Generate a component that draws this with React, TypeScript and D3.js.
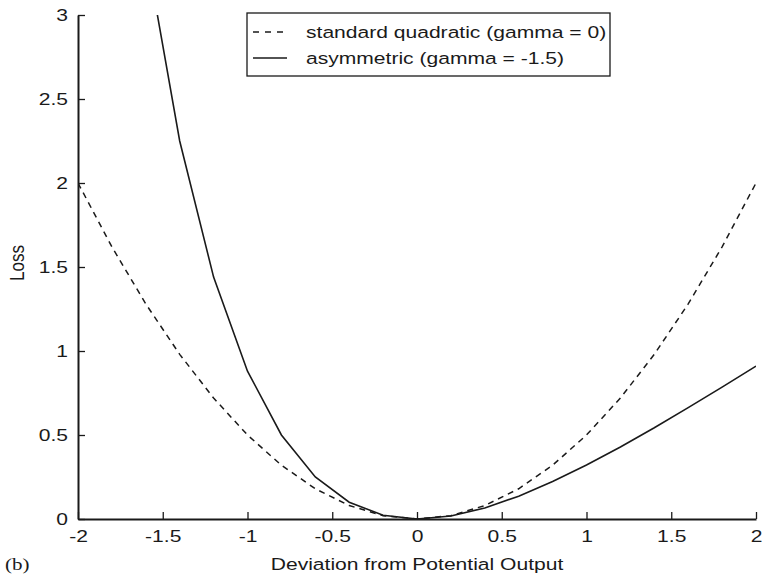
import React, { useEffect, useRef } from 'react';
import * as d3 from 'd3';

// Deviation grid (x) and the two loss series
const deviations = [-2, -1.8, -1.6, -1.4, -1.2, -1, -0.8, -0.6, -0.4, -0.2, 0, 0.2, 0.4, 0.6, 0.8, 1, 1.2, 1.4, 1.6, 1.8, 2];
const quadraticLoss = [2, 1.62, 1.28, 0.98, 0.72, 0.5, 0.32, 0.18, 0.08, 0.02, 0, 0.02, 0.08, 0.18, 0.32, 0.5, 0.72, 0.98, 1.28, 1.62, 2];
const asymmetricLoss = [6.1, 4.6, 3.39, 2.25, 1.44, 0.88, 0.5, 0.25, 0.1, 0.022, 0, 0.018, 0.066, 0.136, 0.223, 0.321, 0.429, 0.543, 0.663, 0.785, 0.91];
const xTicks = [-2, -1.5, -1, -0.5, 0, 0.5, 1, 1.5, 2];
const yTicks = [0, 0.5, 1, 1.5, 2, 2.5, 3];
const seriesLabels = ['standard quadratic (gamma = 0)', 'asymmetric (gamma = -1.5)'];

const App = () => {
  const ref = useRef<SVGSVGElement | null>(null);

  useEffect(() => {
    const width = 762;
    const height = 579;
    const margin = { top: 15, right: 6, bottom: 60, left: 78 };
    const innerW = width - margin.left - margin.right;
    const innerH = height - margin.top - margin.bottom;
    const font = 'Liberation Sans, Arial, Helvetica, sans-serif';
    const ink = '#1a1a1a';
    const fs = 17;
    const sx = 1.24; // the figure's lettering is stretched sideways

    const svg = d3.select(ref.current);
    svg.selectAll('*').remove();

    const g = svg.append('g').attr('transform', `translate(${margin.left},${margin.top})`);

    const x = d3.scaleLinear().domain([-2, 2]).range([0, innerW]);
    const y = d3.scaleLinear().domain([0, 3]).range([innerH, 0]);

    svg.append('defs').append('clipPath').attr('id', 'plot-clip')
      .append('rect').attr('x', 0).attr('y', 0).attr('width', innerW).attr('height', innerH);

    const fmt = (d: d3.NumberValue) => String(d);

    // X axis (ticks pointing inward)
    const xAxis = g.append('g')
      .attr('transform', `translate(0,${innerH})`)
      .call(d3.axisBottom(x).tickValues(xTicks).tickSizeInner(-7).tickSizeOuter(0).tickPadding(11).tickFormat(fmt));
    xAxis.select('.domain').attr('stroke', ink).attr('stroke-width', 2);
    xAxis.selectAll('.tick line').attr('stroke', ink).attr('stroke-width', 1.3);
    xAxis.selectAll('.tick text')
      .attr('font-family', font).attr('font-size', fs).attr('fill', ink)
      .attr('transform', `scale(${sx},1)`);

    // Y axis
    const yAxis = g.append('g')
      .call(d3.axisLeft(y).tickValues(yTicks).tickSizeInner(-7).tickSizeOuter(0).tickPadding(10).tickFormat(fmt));
    yAxis.select('.domain').attr('stroke', ink).attr('stroke-width', 2);
    yAxis.selectAll('.tick line').attr('stroke', ink).attr('stroke-width', 1.3);
    yAxis.selectAll('.tick text')
      .attr('font-family', font).attr('font-size', fs).attr('fill', ink)
      .attr('x', -10 / sx)
      .attr('transform', `scale(${sx},1)`);

    const line = d3.line<number>()
      .x((_, i) => x(deviations[i]))
      .y(d => y(d));

    const plot = g.append('g').attr('clip-path', 'url(#plot-clip)');

    plot.append('path')
      .datum(quadraticLoss)
      .attr('d', line)
      .attr('fill', 'none')
      .attr('stroke', ink)
      .attr('stroke-width', 1.5)
      .attr('stroke-dasharray', '6,5');

    plot.append('path')
      .datum(asymmetricLoss)
      .attr('d', line)
      .attr('fill', 'none')
      .attr('stroke', ink)
      .attr('stroke-width', 1.6);

    // Legend
    const legend = svg.append('g').attr('transform', 'translate(247,13)');
    legend.append('rect')
      .attr('width', 363).attr('height', 63)
      .attr('fill', 'white').attr('stroke', ink).attr('stroke-width', 1.3);
    seriesLabels.forEach((label, i) => {
      const ly = 19 + i * 26;
      legend.append('line')
        .attr('x1', 6).attr('x2', 40).attr('y1', ly).attr('y2', ly)
        .attr('stroke', ink).attr('stroke-width', 1.5)
        .attr('stroke-dasharray', i === 0 ? '6,6' : null);
      legend.append('text')
        .attr('transform', `translate(59,${ly}) scale(${sx},1)`)
        .attr('dy', '0.35em')
        .attr('font-family', font).attr('font-size', fs).attr('fill', ink)
        .text(label);
    });

    // Axis titles
    svg.append('text')
      .attr('transform', `translate(${margin.left + innerW / 2},570) scale(${sx},1)`)
      .attr('text-anchor', 'middle')
      .attr('font-family', font).attr('font-size', fs).attr('fill', ink)
      .text('Deviation from Potential Output');

    svg.append('text')
      .attr('transform', `translate(24,${margin.top + innerH / 2 - 4}) scale(${sx},1) rotate(-90)`)
      .attr('text-anchor', 'middle')
      .attr('font-family', font).attr('font-size', fs).attr('fill', ink)
      .text('Loss');

    svg.append('text')
      .attr('transform', `translate(5,570) scale(${sx},1)`)
      .attr('font-family', 'Liberation Serif, Times New Roman, serif').attr('font-size', 17).attr('fill', ink)
      .text('(b)');
  }, []);

  return (
    <svg
      ref={ref}
      width={762}
      height={579}
      style={{ position: 'absolute', left: 0, top: 0, background: 'white' }}
    />
  );
};

export default App;
